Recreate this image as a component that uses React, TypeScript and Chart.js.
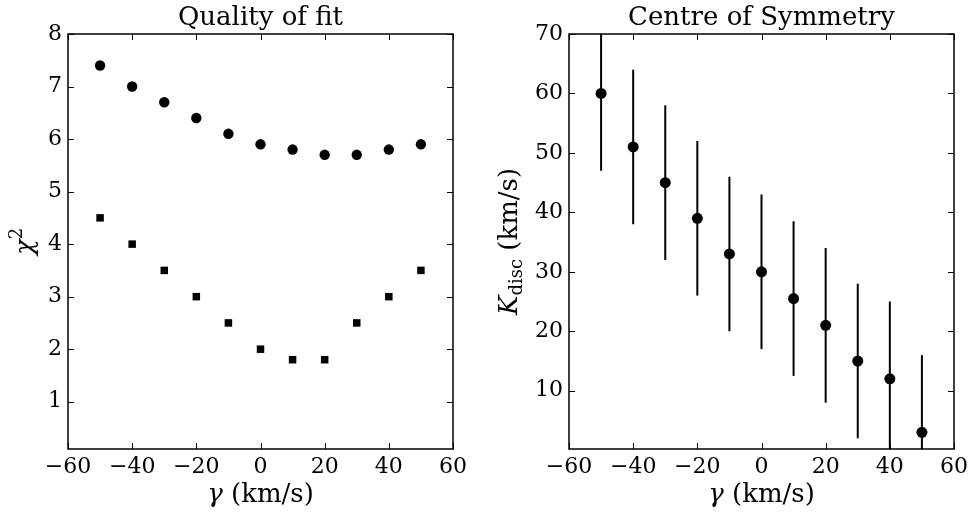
import React, { useEffect, useRef } from "react";
import { Chart, registerables } from "chart.js";

Chart.register(...registerables);

// ---------- data ----------
const gammaValues = [-50, -40, -30, -20, -10, 0, 10, 20, 30, 40, 50];
const chiSqCircles = [7.4, 7.0, 6.7, 6.4, 6.1, 5.9, 5.8, 5.7, 5.7, 5.8, 5.9];
const chiSqSquares = [4.5, 4.0, 3.5, 3.0, 2.5, 2.0, 1.8, 1.8, 2.5, 3.0, 3.5];
const kDiscValues = [60, 51, 45, 39, 33, 30, 25.5, 21, 15, 12, 3];
const kDiscErrors = [13, 13, 13, 13, 13, 13, 13, 13, 13, 13, 13];

const gammaTicks = [-60, -40, -20, 0, 20, 40, 60];
const chiTicks = [1, 2, 3, 4, 5, 6, 7, 8];
const kTicks = [10, 20, 30, 40, 50, 60, 70];

const FONT = '"DejaVu Serif", serif';
const TICK_SIZE = 22;
const LABEL_SIZE = 26;

type Piece = { text: string; font: string; dy?: number };

function drawPieces(
  ctx: CanvasRenderingContext2D,
  pieces: Piece[],
  x: number,
  y: number,
  rotate: boolean,
  baseline: CanvasTextBaseline
) {
  ctx.save();
  ctx.translate(x, y);
  if (rotate) ctx.rotate(-Math.PI / 2);
  ctx.textBaseline = baseline;
  ctx.textAlign = "left";
  ctx.fillStyle = "#000";
  let total = 0;
  const widths = pieces.map((p) => {
    ctx.font = p.font;
    const w = ctx.measureText(p.text).width;
    total += w;
    return w;
  });
  let cx = -total / 2;
  pieces.forEach((p, i) => {
    ctx.font = p.font;
    ctx.fillText(p.text, cx, p.dy || 0);
    cx += widths[i];
  });
  ctx.restore();
}

type Decor = {
  title: string;
  xLabel: Piece[];
  yLabel: Piece[];
  yLabelX: number;
  yLabelBaseline: CanvasTextBaseline;
  errors?: { x: number[]; y: number[]; e: number[] };
};

function decorPlugin(d: Decor) {
  return {
    id: "decor",
    afterDatasetsDraw(chart: any) {
      const { ctx, chartArea } = chart;
      const { left, right, top, bottom } = chartArea;
      const xs = chart.scales.x;
      const ys = chart.scales.y;
      if (d.errors) {
        ctx.save();
        ctx.beginPath();
        ctx.rect(left, top, right - left, bottom - top);
        ctx.clip();
        ctx.strokeStyle = "#000";
        ctx.lineWidth = 2;
        d.errors.x.forEach((xv, i) => {
          const px = xs.getPixelForValue(xv);
          const y1 = ys.getPixelForValue(d.errors!.y[i] - d.errors!.e[i]);
          const y2 = ys.getPixelForValue(d.errors!.y[i] + d.errors!.e[i]);
          ctx.beginPath();
          ctx.moveTo(px, y1);
          ctx.lineTo(px, y2);
          ctx.stroke();
        });
        ctx.restore();
      }
    },
    afterDraw(chart: any) {
      const { ctx, chartArea } = chart;
      const { left, right, top, bottom } = chartArea;
      const xs = chart.scales.x;
      const ys = chart.scales.y;
      ctx.save();
      ctx.strokeStyle = "#000";
      ctx.lineWidth = 1;
      const tl = 6;
      xs.ticks.forEach((t: any) => {
        const px = Math.round(xs.getPixelForValue(t.value)) + 0.5;
        ctx.beginPath();
        ctx.moveTo(px, bottom);
        ctx.lineTo(px, bottom - tl);
        ctx.moveTo(px, top);
        ctx.lineTo(px, top + tl);
        ctx.stroke();
      });
      ys.ticks.forEach((t: any) => {
        const py = Math.round(ys.getPixelForValue(t.value)) + 0.5;
        ctx.beginPath();
        ctx.moveTo(left, py);
        ctx.lineTo(left + tl, py);
        ctx.moveTo(right, py);
        ctx.lineTo(right - tl, py);
        ctx.stroke();
      });
      ctx.lineWidth = 1.5;
      ctx.strokeRect(left, top, right - left, bottom - top);
      ctx.restore();

      const cx = (left + right) / 2;
      const cy = (top + bottom) / 2;
      drawPieces(ctx, [{ text: d.title, font: `${LABEL_SIZE}px ${FONT}` }], cx, 25, false, "alphabetic");
      drawPieces(ctx, d.xLabel, cx, 502, false, "alphabetic");
      drawPieces(ctx, d.yLabel, d.yLabelX, cy, true, d.yLabelBaseline);
    },
  };
}

function fmt(v: number) {
  return String(v).replace("-", "\u2212");
}

function makeOptions(
  xmin: number,
  xmax: number,
  ymin: number,
  ymax: number,
  xt: number[],
  yt: number[],
  yAxisWidth: number,
  rightPad: number
): any {
  return {
    animation: false,
    responsive: false,
    events: [],
    layout: { padding: { left: 0, right: rightPad, top: 34, bottom: 0 } },
    plugins: { legend: { display: false }, tooltip: { enabled: false }, title: { display: false } },
    scales: {
      x: {
        type: "linear",
        min: xmin,
        max: xmax,
        grid: { display: false, drawTicks: false },
        border: { display: false },
        afterBuildTicks: (s: any) => {
          s.ticks = xt.map((v) => ({ value: v }));
        },
        afterFit: (s: any) => {
          s.height = 64;
        },
        ticks: {
          padding: 5,
          color: "#000",
          font: { family: FONT, size: TICK_SIZE },
          maxRotation: 0,
          autoSkip: false,
          callback: (v: any) => fmt(Number(v)),
        },
      },
      y: {
        type: "linear",
        min: ymin,
        max: ymax,
        grid: { display: false, drawTicks: false },
        border: { display: false },
        afterBuildTicks: (s: any) => {
          s.ticks = yt.map((v) => ({ value: v }));
        },
        afterFit: (s: any) => {
          s.width = yAxisWidth;
        },
        ticks: {
          padding: 6,
          color: "#000",
          font: { family: FONT, size: TICK_SIZE },
          autoSkip: false,
          callback: (v: any) => fmt(Number(v)),
        },
      },
    },
  };
}

function LeftChart() {
  const ref = useRef<HTMLCanvasElement>(null);
  useEffect(() => {
    const chart = new Chart(ref.current!, {
      type: "scatter",
      data: {
        datasets: [
          {
            data: gammaValues.map((x, i) => ({ x, y: chiSqCircles[i] })),
            pointStyle: "circle",
            pointRadius: 5.2,
            pointBackgroundColor: "#000",
            pointBorderWidth: 0,
            borderColor: "#000",
          },
          {
            data: gammaValues.map((x, i) => ({ x, y: chiSqSquares[i] })),
            pointStyle: "rect",
            pointRadius: 5.3,
            pointBackgroundColor: "#000",
            pointBorderWidth: 0,
            borderColor: "#000",
          },
        ],
      } as any,
      options: makeOptions(-60, 60, 0.1, 8, gammaTicks, chiTicks, 68, 33),
      plugins: [
        decorPlugin({
          title: "Quality of fit",
          xLabel: [
            { text: "\u03b3", font: `italic ${LABEL_SIZE}px ${FONT}` },
            { text: " (km/s)", font: `${LABEL_SIZE}px ${FONT}` },
          ],
          yLabel: [
            { text: "\u03c7", font: `italic ${LABEL_SIZE}px ${FONT}` },
            { text: "2", font: `${Math.round(LABEL_SIZE * 0.7)}px ${FONT}`, dy: -11 },
          ],
          yLabelX: 33,
          yLabelBaseline: "alphabetic",
        }),
      ],
    });
    return () => chart.destroy();
  }, []);
  return <canvas ref={ref} width={486} height={513} style={{ position: "absolute", left: 0, top: 0 }} />;
}

function RightChart() {
  const ref = useRef<HTMLCanvasElement>(null);
  useEffect(() => {
    const chart = new Chart(ref.current!, {
      type: "scatter",
      data: {
        datasets: [
          {
            data: gammaValues.map((x, i) => ({ x, y: kDiscValues[i] })),
            pointStyle: "circle",
            pointRadius: 5.5,
            pointBackgroundColor: "#000",
            pointBorderWidth: 0,
            borderColor: "#000",
          },
        ],
      } as any,
      options: makeOptions(-60, 60, 0.2, 70, gammaTicks, kTicks, 83, 19),
      plugins: [
        decorPlugin({
          title: "Centre of Symmetry",
          xLabel: [
            { text: "\u03b3", font: `italic ${LABEL_SIZE}px ${FONT}` },
            { text: " (km/s)", font: `${LABEL_SIZE}px ${FONT}` },
          ],
          yLabel: [
            { text: "K", font: `italic ${LABEL_SIZE}px ${FONT}` },
            { text: "disc", font: `${Math.round(LABEL_SIZE * 0.7)}px ${FONT}`, dy: 5 },
            { text: " (km/s)", font: `${LABEL_SIZE}px ${FONT}` },
          ],
          yLabelX: 517 - 486,
          yLabelBaseline: "alphabetic",
          errors: { x: gammaValues, y: kDiscValues, e: kDiscErrors },
        }),
      ],
    });
    return () => chart.destroy();
  }, []);
  return <canvas ref={ref} width={487} height={513} style={{ position: "absolute", left: 486, top: 0 }} />;
}

export default function App() {
  return (
    <div style={{ position: "fixed", left: 0, top: 0, width: 973, height: 513, background: "#fff" }}>
      <LeftChart />
      <RightChart />
    </div>
  );
}
